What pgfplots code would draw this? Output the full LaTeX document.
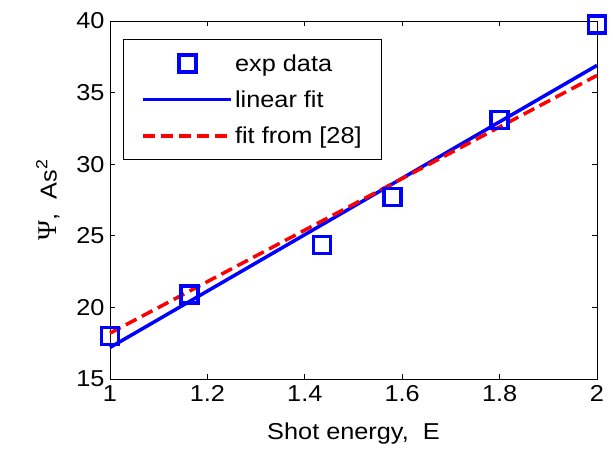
\documentclass[border=0pt]{standalone}
\usepackage{fontspec}
\setmainfont{Liberation Sans}[FakeStretch=1.1]
\newfontfamily\grfont{Liberation Serif}
\usepackage{pgfplots}
\pgfplotsset{compat=1.18}
\definecolor{mBlue}{RGB}{0,0,255}
\definecolor{mRed}{RGB}{255,0,0}
\pgfplotsset{
  markleg/.style={legend image code/.code={\draw[##1, mark repeat=2, mark phase=2] plot coordinates {(0pt,0pt)(44pt,0pt)(88pt,0pt)};}},
  lineleg/.style={legend image code/.code={\draw[##1] (0pt,0pt) -- (88pt,0pt);}},
}
\begin{document}
\begin{tikzpicture}
\useasboundingbox (-110pt,-69pt) rectangle (503pt,379pt);
\begin{axis}[
  scale only axis,
  at={(0pt,0pt)}, anchor=south west,
  width=487pt, height=358pt,
  xmin=1, xmax=2, ymin=15, ymax=40,
  xtick={1,1.2,1.4,1.6,1.8,2}, ytick={15,20,...,40},
  xticklabels={1,1.2,1.4,1.6,1.8,2},
  tick align=inside, major tick length=5pt,
  axis line style={line width=0.9pt},
  tick style={line width=0.9pt, black},
  /pgf/number format/assume math mode=true,
  tick label style={font=\fontsize{23}{27}\selectfont},
  label style={font=\fontsize{23}{27}\selectfont},
  xticklabel style={yshift=-3pt},
  yticklabel style={xshift=-2pt},
  xlabel={Shot energy,\ \ E},
  ylabel={{\grfont\fontsize{27}{29}\selectfont Ψ},\ \ As\textsuperscript{2}},
  xlabel style={yshift=-14pt},
  ylabel style={yshift=10pt},
  clip=false,
  legend cell align=left,
  legend style={at={(0.027,0.95)}, anchor=north west,
    font=\fontsize{23}{27}\selectfont, draw=black, line width=0.9pt,
    row sep=14pt, inner xsep=18pt, inner ysep=13pt},
]
\addplot[only marks, mark=square, mark size=8.5pt, line width=3.5pt, color=mBlue, markleg]
  coordinates {(1,18.0) (1.163,20.9) (1.435,24.35) (1.58,27.7) (1.8,33.1) (2,39.75)};
\addlegendentry{exp data}
\addplot[line width=3.5pt, color=mBlue, lineleg]
  coordinates {(1,17.2) (2,36.9)};
\addlegendentry{linear fit}
\addplot[line width=3.5pt, color=mRed, dash pattern=on 12pt off 6pt, lineleg]
  coordinates {(1,18.2) (2,36.2)};
\addlegendentry{fit from [28]}
\end{axis}
\end{tikzpicture}
\end{document}
